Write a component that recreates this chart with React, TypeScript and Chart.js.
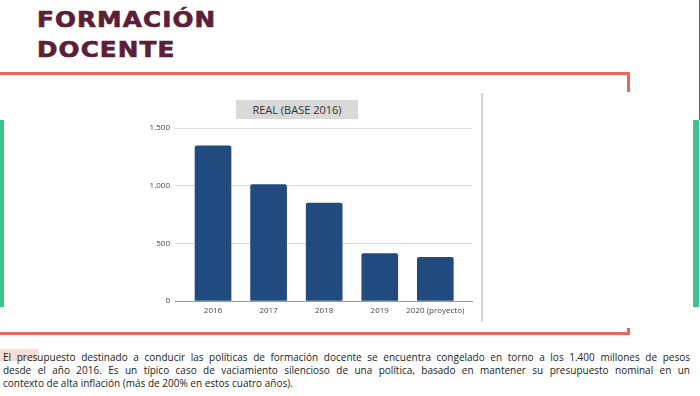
import React, { useEffect, useRef } from "react";
import { Chart, registerables } from "chart.js";

Chart.register(...registerables);

const categories = ["2016", "2017", "2018", "2019", "2020 (proyecto)"];
const values = [1345, 1010, 848, 412, 378];
const yTicks = [0, 500, 1000, 1500];
const chartTitle = "REAL (BASE 2016)";
const titleLines = ["FORMACIÓN", "DOCENTE"];
const paragraphLines = [
  "El presupuesto destinado a conducir las políticas de formación docente se encuentra congelado en torno a los 1.400 millones de pesos",
  "desde el año 2016. Es un típico caso de vaciamiento silencioso de una política, basado en mantener su presupuesto nominal en un",
  "contexto de alta inflación (más de 200% en estos cuatro años).",
];

const fmt = (v: number) => String(v).replace(/\B(?=(\d{3})+(?!\d))/g, ".");

const abs = (s: React.CSSProperties): React.CSSProperties => ({ position: "absolute", ...s });

export default function App() {
  const ref = useRef<HTMLCanvasElement | null>(null);

  useEffect(() => {
    if (!ref.current) return;
    const chart = new Chart(ref.current, {
      type: "bar",
      data: {
        datasets: [
          {
            data: values.map((v, i) => ({ x: i, y: v })),
            backgroundColor: "#214a7e",
            borderRadius: 2,
            barThickness: 36,
          },
        ],
      },
      options: {
        animation: false,
        responsive: true,
        maintainAspectRatio: false,
        layout: { padding: { top: 10, right: 8, bottom: 5, left: 0 } },
        plugins: { legend: { display: false }, tooltip: { enabled: false }, title: { display: false } },
        scales: {
          x: {
            type: "linear",
            offset: false,
            min: -0.684,
            max: 4.66,
            grid: { display: false, drawTicks: false, offset: false },
            border: { display: true, color: "#9a9a9a", width: 1 },
            afterBuildTicks: (scale: any) => {
              scale.ticks = categories.map((_, i) => ({ value: i }));
            },
            afterFit: (scale: any) => {
              scale.height = 22;
            },
            ticks: {
              autoSkip: false,
              maxRotation: 0,
              padding: 5,
              color: "#444",
              font: { family: "'Open Sans'", size: 8 },
              callback: (v: any) => categories[Math.round(Number(v))],
            },
          },
          y: {
            min: 0,
            max: 1500,
            afterBuildTicks: (scale: any) => {
              scale.ticks = yTicks.map((v) => ({ value: v }));
            },
            afterFit: (scale: any) => {
              scale.width = 45;
            },
            grid: {
              drawTicks: false,
              color: (ctx: any) => (ctx.tick && ctx.tick.value === 0 ? "#9a9a9a" : "#dcdcdc"),
              lineWidth: 1,
            },
            border: { display: false },
            ticks: {
              padding: 5,
              color: "#444",
              font: { family: "'Open Sans'", size: 8 },
              callback: (v: any) => fmt(Number(v)),
            },
          },
        },
      },
    });
    return () => chart.destroy();
  }, []);

  const red = "#e8675c";
  const green = "#3cc48c";

  return (
    <div style={{ position: "fixed", left: 0, top: 0, width: 700, height: 396, background: "#fff", overflow: "hidden" }}>
      <div
        style={abs({
          left: 37,
          top: 5,
          fontFamily: "'DejaVu Sans'",
          fontWeight: 700,
          fontSize: 22,
          letterSpacing: 1,
          lineHeight: "30px",
          color: "#5b1f38",
          whiteSpace: "nowrap",
          transform: "scaleX(1.12)",
          transformOrigin: "left top",
          WebkitTextStroke: "0.7px #5b1f38",
        } as React.CSSProperties)}
      >
        {titleLines.map((t) => (
          <div key={t}>{t}</div>
        ))}
      </div>

      <div style={abs({ left: 0, top: 72, width: 630, height: 3, background: red })} />
      <div style={abs({ left: 627, top: 72, width: 3, height: 20, background: red })} />
      <div style={abs({ left: 0, top: 332, width: 630, height: 3, background: red })} />
      <div style={abs({ left: 627, top: 328, width: 3, height: 7, background: red })} />

      <div style={abs({ left: 0, top: 120, width: 4, height: 187, background: green })} />
      <div style={abs({ left: 693, top: 120, width: 6, height: 187, background: green })} />
      <div style={abs({ left: 699, top: 0, width: 1, height: 120, background: "#666" })} />

      <div style={abs({ left: 481, top: 93, width: 2, height: 229, background: "#d4d4d4" })} />

      <div style={abs({ left: 130, top: 118, width: 350, height: 210 })}>
        <canvas ref={ref} />
      </div>

      <div
        style={abs({
          left: 236,
          top: 100,
          width: 122,
          height: 19,
          background: "#d9d9d9",
          fontFamily: "'Open Sans'",
          fontSize: 11,
          lineHeight: "19px",
          color: "#333",
          textAlign: "center",
          whiteSpace: "nowrap",
        })}
      >
        {chartTitle}
      </div>

      <div style={abs({ left: 0, top: 349, width: 38, height: 12, background: "#f6ddd6" })} />

      <div style={abs({ left: 3, top: 351, width: 687, fontFamily: "'Open Sans'", fontSize: 10, lineHeight: "13px", color: "#222" })}>
        {paragraphLines.map((l, i) => (
          <div
            key={i}
            style={{
              whiteSpace: "nowrap",
              textAlign: i < paragraphLines.length - 1 ? "justify" : "left",
              textAlignLast: i < paragraphLines.length - 1 ? "justify" : "left",
            } as React.CSSProperties}
          >
            {l}
          </div>
        ))}
      </div>
    </div>
  );
}
